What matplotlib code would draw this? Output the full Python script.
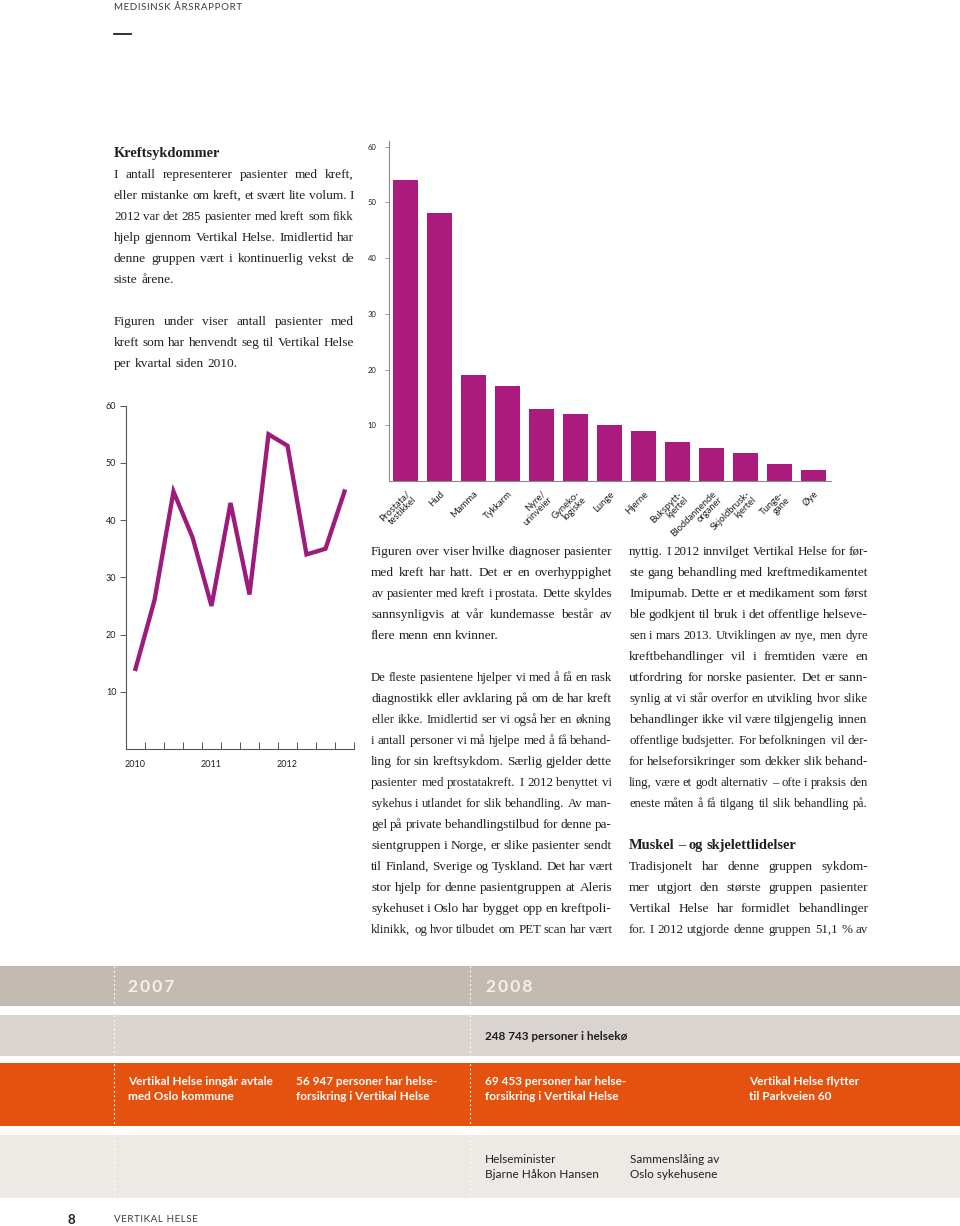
import matplotlib
matplotlib.use('Agg')
import matplotlib.pyplot as plt
from matplotlib import font_manager
from matplotlib.patches import Rectangle

# bar chart: diagnoses
diagnoser = ['Prostata/\ntestikkel', 'Hud', 'Mamma', 'Tykkarm', 'Nyre/\nurinveier',
             'Gyneko-\nlogiske', 'Lunge', 'Hjerne', 'Bukspytt-\nkjertel',
             'Bloddannende\norganer', 'Skjoldbrusk-\nkjertel', 'Tunge-\ngane', 'Øye']
antall = [54, 48, 19, 17, 13, 12, 10, 9, 7, 6, 5, 3, 2]
bar_ticks = [10, 20, 30, 40, 50, 60]

# line chart: patients per quarter 2010-2012
kvartal = list(range(12))
pasienter = [14, 26, 45, 37, 25, 43, 27, 55, 53, 34, 35, 45]
aar = ['2010', '2011', '2012']
line_ticks = [10, 20, 30, 40, 50, 60]

# page text
venstre = ['Kreftsykdommer',
           'I antall representerer pasienter med kreft,',
           'eller mistanke om kreft, et svært lite volum. I',
           '2012 var det 285 pasienter med kreft som fikk',
           'hjelp gjennom Vertikal Helse. Imidlertid har',
           'denne gruppen vært i kontinuerlig vekst de',
           'siste årene.',
           None,
           'Figuren under viser antall pasienter med',
           'kreft som har henvendt seg til Vertikal Helse',
           'per kvartal siden 2010.']
midten = ['Figuren over viser hvilke diagnoser pasienter',
          'med kreft har hatt. Det er en overhyppighet',
          'av pasienter med kreft i prostata. Dette skyldes',
          'sannsynligvis at vår kundemasse består av',
          'flere menn enn kvinner.',
          None,
          'De fleste pasientene hjelper vi med å få en rask',
          'diagnostikk eller avklaring på om de har kreft',
          'eller ikke. Imidlertid ser vi også her en økning',
          'i antall personer vi må hjelpe med å få behand-',
          'ling for sin kreftsykdom. Særlig gjelder dette',
          'pasienter med prostatakreft. I 2012 benyttet vi',
          'sykehus i utlandet for slik behandling. Av man-',
          'gel på private behandlingstilbud for denne pa-',
          'sientgruppen i Norge, er slike pasienter sendt',
          'til Finland, Sverige og Tyskland. Det har vært',
          'stor hjelp for denne pasientgruppen at Aleris',
          'sykehuset i Oslo har bygget opp en kreftpoli-',
          'klinikk, og hvor tilbudet om PET scan har vært']
hoyre = ['nyttig. I 2012 innvilget Vertikal Helse for før-',
         'ste gang behandling med kreftmedikamentet',
         'Imipumab. Dette er et medikament som først',
         'ble godkjent til bruk i det offentlige helseve-',
         'sen i mars 2013. Utviklingen av nye, men dyre',
         'kreftbehandlinger vil i fremtiden være en',
         'utfordring for norske pasienter. Det er sann-',
         'synlig at vi står overfor en utvikling hvor slike',
         'behandlinger ikke vil være tilgjengelig innen',
         'offentlige budsjetter. For befolkningen vil der-',
         'for helseforsikringer som dekker slik behand-',
         'ling, være et godt alternativ – ofte i praksis den',
         'eneste måten å få tilgang til slik behandling på.',
         None,
         'Muskel – og skjelettlidelser',
         'Tradisjonelt har denne gruppen sykdom-',
         'mer utgjort den største gruppen pasienter',
         'Vertikal Helse har formidlet behandlinger',
         'for. I 2012 utgjorde denne gruppen 51,1 % av']
overskrifter = ['Kreftsykdommer', 'Muskel – og skjelettlidelser']

aarstall = ['2007', '2008']
helseko = '248 743 personer i helsekø'
hendelser = ['Vertikal Helse inngår avtale\nmed Oslo kommune',
             '56 947 personer har helse-\nforsikring i Vertikal Helse',
             '69 453 personer har helse-\nforsikring i Vertikal Helse',
             'Vertikal Helse flytter\ntil Parkveien 60']
personer = ['Helseminister\nBjarne Håkon Hansen', 'Sammenslåing av\nOslo sykehusene']

names = {f.name for f in font_manager.fontManager.ttflist}
SERIF = 'Liberation Serif'
SANS = 'Lato' if 'Lato' in names else 'DejaVu Sans'
NARROW = 'Liberation Sans Narrow' if 'Liberation Sans Narrow' in names else SANS
TXT = '#231f20'
PURPLE = '#ab1a7d'

W, H = 960, 1226
fig = plt.figure(figsize=(W / 100, H / 100), dpi=100)
bg = fig.add_axes([0, 0, 1, 1])
bg.set_xlim(0, W)
bg.set_ylim(H, 0)
bg.axis('off')

r = fig.canvas.get_renderer()


def column(x0, y0, width, lines, full_last=False, size=9.6, lh=21):
    for k, line in enumerate(lines):
        if line is None:
            continue
        y = y0 + k * lh
        bold = line in overskrifter
        words = line.split(' ')
        n = len(words)
        last = (k == len(lines) - 1 and not full_last) or (k + 1 < len(lines) and lines[k + 1] is None)
        ts = [bg.text(x0, y, w, fontsize=size + (0.8 if bold else 0), family=SERIF, color=TXT,
                      weight='bold' if bold else 'normal', va='baseline', ha='left')
              for w in words]
        ws = [t.get_window_extent(r).width for t in ts]
        gap = 3.4
        if not (last or bold or n == 1):
            gap = (width - sum(ws)) / (n - 1)
        gap = max(gap, 3.0)
        if n > 1 and sum(ws) + gap * (n - 1) > width:
            sc = (width - gap * (n - 1)) / sum(ws)
            for t in ts:
                t.set_fontsize(t.get_fontsize() * sc)
            ws = [w * sc for w in ws]
        x = x0
        for t, w in zip(ts, ws):
            t.set_x(x)
            x += w + gap


def tracked(s):
    return '\u200a'.join(s)


# header and footer
bg.text(114, 7, tracked('MEDISINSK ÅRSRAPPORT'), fontsize=7, family=[SANS, 'DejaVu Sans'],
        color='#3a3a3a', va='center', ha='left')
bg.plot([114, 131], [34, 34], color=TXT, lw=1.3)
bg.text(68, 1220, '8', fontsize=9.5, family=SANS, weight='bold', color=TXT, va='center')
bg.text(114, 1219, tracked('VERTIKAL HELSE'), fontsize=7, family=[SANS, 'DejaVu Sans'],
        color='#3a3a3a', va='center', ha='left')

column(114, 157, 240, venstre)
column(371, 555, 241, midten, full_last=True)
column(629, 555, 239, hoyre)

# timeline bands
bands = [(966, 1006, '#c3bbb2'), (1015, 1056, '#d9d4cf'), (1063, 1126, '#e5510f'),
         (1135, 1198, '#edeae6')]
for y1, y2, c in bands:
    bg.add_patch(Rectangle((0, y1), W, y2 - y1, color=c, lw=0))
for xv in [114, 470]:
    bg.plot([xv, xv], [966, 1198], color='white', lw=0.8, ls=(0, (1.5, 2.5)))

for xa, s in zip([128, 486], aarstall):
    bg.text(xa, 987, '\u2009'.join(s), fontsize=12.5, family=[SANS, 'DejaVu Sans'],
            weight='bold', color='#f4f1ec', va='center', ha='left')
bg.text(485, 1037, helseko, fontsize=8.5, family=NARROW, weight='bold', color=TXT,
        va='center')
for xh, s in zip([128, 296, 485, 749], hendelser):
    bg.text(xh, 1089, s, fontsize=8.5, family=NARROW, weight='bold', color='white',
            va='center', linespacing=1.45)
for xp, s in zip([485, 630], personer):
    bg.text(xp, 1167, s, fontsize=8.5, family=NARROW, color=TXT, va='center',
            linespacing=1.45)

# bar chart
ax = fig.add_axes([389 / W, 1 - 481 / H, (831 - 389) / W, (481 - 141) / H])
ax.set_facecolor('none')
xs = list(range(len(antall)))
ax.bar(xs, antall, width=0.71, color=PURPLE)
ax.set_xlim(-0.485, len(antall) - 0.485)
ax.set_ylim(0, 61)
for s in ['top', 'right']:
    ax.spines[s].set_visible(False)
for s in ['left', 'bottom']:
    ax.spines[s].set_color('#8a8a8a')
    ax.spines[s].set_linewidth(0.8)
ax.set_yticks(bar_ticks)
ax.set_yticklabels([str(v) for v in bar_ticks], fontsize=5.5, family=SANS, color=TXT)
ax.tick_params(axis='y', length=3, width=0.6, color='#8a8a8a', pad=6)
ax.set_xticks(xs)
ax.set_xticklabels(diagnoser, rotation=45, ha='right', rotation_mode='anchor',
                   fontsize=6.8, family=SANS, color=TXT, linespacing=0.95)
ax.tick_params(axis='x', length=0, pad=6)

# line chart
ax2 = fig.add_axes([126 / W, 1 - 749 / H, 228 / W, (749 - 405.7) / H])
ax2.set_facecolor('none')
ax2.plot(kvartal, pasienter, color='#9c1b7b', lw=3.1, solid_joinstyle='miter')
ax2.set_xlim(-0.5, 11.5)
ax2.set_ylim(0, 60)
for s in ['top', 'right']:
    ax2.spines[s].set_visible(False)
for s in ['left', 'bottom']:
    ax2.spines[s].set_color('#555555')
    ax2.spines[s].set_linewidth(0.8)
ax2.set_yticks(line_ticks)
ax2.set_yticklabels([str(v) for v in line_ticks], fontsize=6.5, family=SANS, color=TXT)
ax2.tick_params(axis='y', length=4, width=0.7, color='#555555', pad=3)
ax2.set_xticks([0, 4, 8])
ax2.set_xticklabels(aar, fontsize=6.5, family=SANS, color=TXT)
ax2.set_xticks([k + 0.5 for k in kvartal], minor=True)
ax2.tick_params(axis='x', which='major', length=0, pad=8)
ax2.tick_params(axis='x', which='minor', direction='in', length=5, width=0.7, color='#555555')

fig.savefig('out.png', dpi=100)
